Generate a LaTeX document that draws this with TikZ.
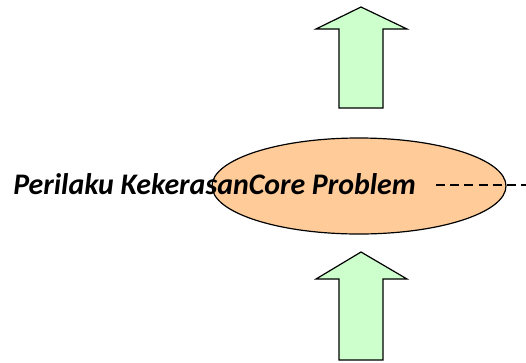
\documentclass[tikz,border=0pt]{standalone}
\usepackage{fontspec}
\setsansfont{Carlito}
\usetikzlibrary{shapes.geometric}
\definecolor{corefill}{HTML}{FFCC99}
\definecolor{arrowfill}{HTML}{CCFFCC}
\tikzset{core_t/.style={draw, ellipse, fill=corefill, line width=0.9pt, inner sep=0pt, minimum width=220.5pt, minimum height=72pt},
arrow_t/.style={draw, fill=arrowfill, line width=0.9pt, line join=miter},
label_t/.style={inner sep=0pt, font=\fontsize{22.4}{26}\selectfont\sffamily\bfseries\itshape},
link_t/.style={line width=1pt, dash pattern=on 6.8pt off 3.8pt}}

\begin{document}
\begin{tikzpicture}[x=0.75pt, y=-0.75pt]
  \useasboundingbox (0,0) rectangle (526,362);
  % block arrows: tip y, head base y, shaft end y
  \foreach \tip/\base/\tail in {7/29/108, 252/279/360}
    \draw[arrow_t] (361,\tip) -- (407,\base) -- (383,\base) -- (383,\tail) -- (339,\tail) -- (339,\base) -- (316,\base) -- cycle;
  \node[core_t] (core) at (359,186) {};
  \node[label_t, anchor=base west] (lbl) at (13,194) {Perilaku KekerasanCore Problem};
  \coordinate (edge) at (526,185);
  \draw[link_t] (lbl.east |- edge) ++(20,0) -- (edge);
\end{tikzpicture}
\end{document}
